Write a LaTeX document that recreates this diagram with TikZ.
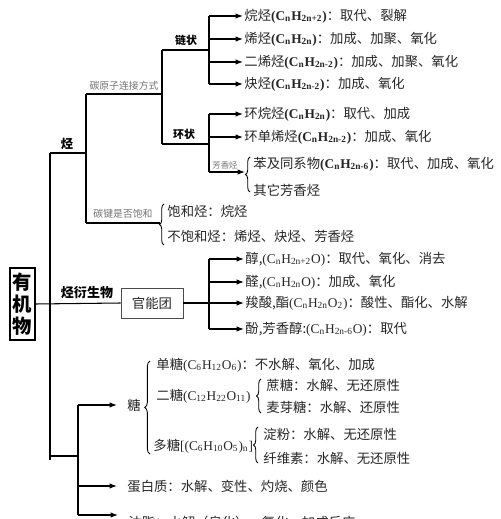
\documentclass[tikz,border=0pt]{standalone}
\usepackage{fontspec}
\setmainfont{Liberation Serif}
\newfontfamily\cjk{Noto Sans CJK SC}
\usetikzlibrary{arrows.meta,decorations.pathreplacing}
\newcommand\chem[1]{{\rmfamily #1}}
\newcommand\chemb[1]{{\rmfamily\bfseries #1}}

\begin{document}
\begin{tikzpicture}[x=0.02cm,y=-0.02cm,
  font=\cjk\fontsize{7.6}{9}\selectfont,
  item/.style={anchor=west,inner sep=0.6pt,text=black!85},
  tag/.style={anchor=south,inner sep=0.8pt,text=black!55,font=\cjk\fontsize{5.6}{6.5}\selectfont},
  hd/.style={anchor=south,inner sep=0.8pt,font=\cjk\bfseries\fontsize{6.2}{7}\selectfont},
  ln/.style={line width=0.6pt},
  arr/.style={ln,-{Latex[length=1.5mm,width=1.1mm]}},
  brc/.style={decorate,decoration={brace,amplitude=2.6pt},line width=0.5pt}]
\clip (0,0) rectangle (500,519);

\node[draw,line width=1pt,minimum width=5mm,minimum height=14.4mm,inner sep=0pt,align=center,
  font=\cjk\bfseries\fontsize{11}{12.5}\selectfont] (root) at (22.5,304) {有\\机\\物};
\node[draw=black!70,line width=0.5pt,minimum width=12.4mm,minimum height=6mm,inner sep=1pt,text=black!85] (fg) at (152,303) {官能团};

\node[item] (a1) at (243,16) {烷烃\chemb{(C\textsubscript{n}H\textsubscript{2n+2})}：取代、裂解};
\node[item] (a2) at (243,39) {烯烃\chemb{(C\textsubscript{n}H\textsubscript{2n})}：加成、加聚、氧化};
\node[item] (a3) at (243,62) {二烯烃\chemb{(C\textsubscript{n}H\textsubscript{2n-2})}：加成、加聚、氧化};
\node[item] (a4) at (243,84) {炔烃\chemb{(C\textsubscript{n}H\textsubscript{2n-2})}：加成、氧化};
\node[item] (r1) at (243,114) {环烷烃\chemb{(C\textsubscript{n}H\textsubscript{2n})}：取代、加成};
\node[item] (r2) at (243,137) {环单烯烃\chemb{(C\textsubscript{n}H\textsubscript{2n-2})}：加成、氧化};
\node[item] (ar1) at (252,164) {苯及同系物\chemb{(C\textsubscript{n}H\textsubscript{2n-6})}：取代、加成、氧化};
\node[item] (ar2) at (252,190) {其它芳香烃};
\node[item] (s1) at (166,211) {饱和烃：烷烃};
\node[item] (s2) at (166,236) {不饱和烃：烯烃、炔烃、芳香烃};

\node[item] (f1) at (244,259) {醇,\chem{(C\textsubscript{n}H\textsubscript{2n+2}O)}：取代、氧化、消去};
\node[item] (f2) at (244,282) {醛,\chem{(C\textsubscript{n}H\textsubscript{2n}O)}：加成、氧化};
\node[item] (f3) at (244,303) {羧酸,酯\chem{(C\textsubscript{n}H\textsubscript{2n}O\textsubscript{2})}：酸性、酯化、水解};
\node[item] (f4) at (244,329) {酚,芳香醇:\chem{(C\textsubscript{n}H\textsubscript{2n-6}O)}：取代};

\node[item] (sugar) at (126,405) {糖};
\node[item] (m1) at (155,365) {单糖\chem{(C\textsubscript{6}H\textsubscript{12}O\textsubscript{6})}：不水解、氧化、加成};
\node[item] (m2) at (155,396) {二糖\chem{(C\textsubscript{12}H\textsubscript{22}O\textsubscript{11})}};
\node[item] (m3) at (152,446) {多糖\chem{[(C\textsubscript{6}H\textsubscript{10}O\textsubscript{5})\textsubscript{n}]}};
\node[item] (d1) at (265,385) {蔗糖：水解、无还原性};
\node[item] (d2) at (265,407) {麦芽糖：水解、还原性};
\node[item] (p1) at (262,434) {淀粉：水解、无还原性};
\node[item] (p2) at (262,458) {纤维素：水解、无还原性};
\node[item] (prot) at (126,486) {蛋白质：水解、变性、灼烧、颜色};
\node[item] (oil) at (127,522) {油脂：水解（皂化）、氢化、加成反应};

\node[hd,font=\cjk\bfseries\fontsize{7}{8}\selectfont] (lH) at (67,151) {烃};
\node[tag] (lC) at (124,92) {碳原子连接方式};
\node[hd] (lL) at (186,47) {链状};
\node[hd] (lR) at (184,141) {环状};
\node[tag,font=\cjk\fontsize{4.8}{5.5}\selectfont] (lA) at (225,171) {芳香烃};
\node[tag] (lS) at (123,220) {碳键是否饱和};
\node[hd,font=\cjk\bfseries\fontsize{7.4}{8}\selectfont] (lF) at (87,301) {烃衍生物};

\coordinate (jH) at (50,153);
\coordinate (jE) at (50,460);
\coordinate (jB) at (50,456);
\coordinate (jC) at (86,94);
\coordinate (jS) at (86,223);
\coordinate (jL) at (162,50);
\coordinate (jR) at (162,144);
\coordinate (vL) at (209,50);
\coordinate (vR) at (209,144);
\coordinate (vF) at (209,303);
\coordinate (vB) at (78,456);
\coordinate (bA) at (245,172);
\coordinate (bS) at (160,223);

\draw[ln] (root.east) -- (fg.west);
\draw[ln] (jH) -- (jE);
\draw[ln] (jH) -- (jC |- jH);
\draw[ln] (jC) -- (jS);
\draw[ln] (jC) -- (jL |- jC);
\draw[ln] (jL) -- (jR);
\draw[ln] (jL) -- (vL);
\draw[ln] (jR) -- (vR);
\draw[ln] (vL |- a1.west) -- (vL |- a4.west);
\draw[ln] (vR |- r1.west) -- (vR |- bA);
\foreach \n in {a1,a2,a3,a4,r1,r2}
  \draw[arr] (vL |- \n.west) -- (\n.west);
\draw[arr] (vR |- bA) -- (bA);
\draw[ln] (jS) -- (bS);

\draw[ln] (fg.east) -- (vF);
\draw[ln] (vF |- f1.west) -- (vF |- f4.west);
\foreach \n in {f1,f2,f3,f4}
  \draw[arr] (vF |- \n.west) -- (\n.west);

\draw[ln] (jB) -- (vB);
\draw[ln] (vB |- sugar.west) -- (vB |- 0,515);
\foreach \n in {sugar,prot}
  \draw[arr,shorten >=1.8mm] (vB |- \n.west) -- (\n.west);
\draw[arr,shorten >=1.8mm] (vB |- 0,515) -- (oil.west |- 0,515);

\draw[brc] (250,192) -- (250,157);
\draw[brc] (164,245) -- (164,204);
\draw[brc,decoration={amplitude=3pt}] (150,454) -- (150,361);
\draw[brc] (261,413) -- (261,379);
\draw[brc] (258,463) -- (258,427);
\end{tikzpicture}
\end{document}
